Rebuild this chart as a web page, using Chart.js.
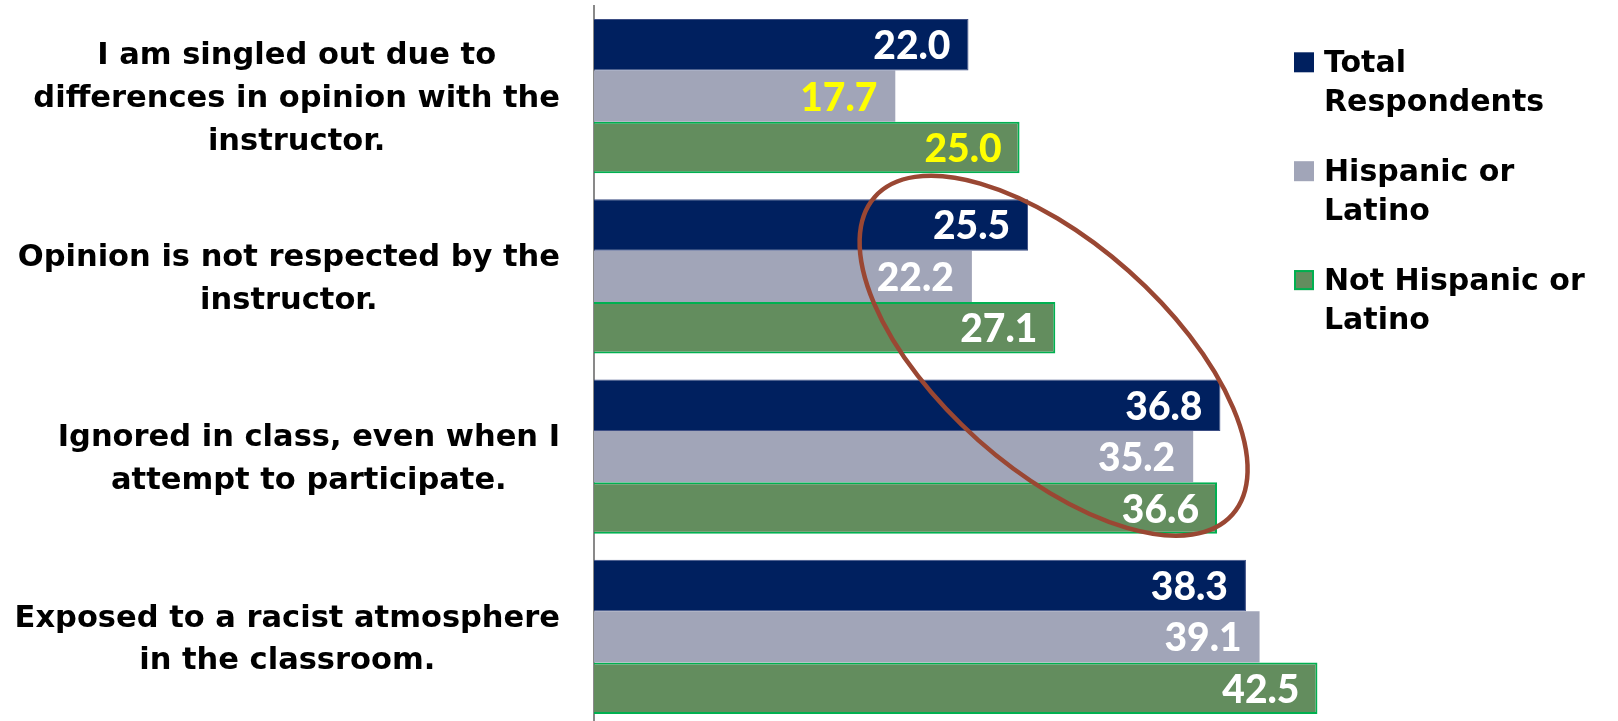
<!DOCTYPE html>
<html>
<head>
<meta charset="utf-8">
<script src="https://cdn.jsdelivr.net/npm/chart.js@4"></script>
<style>
  html, body { margin: 0; padding: 0; background: #ffffff; overflow: hidden; }
  #wrap { position: relative; width: 1618px; height: 727px; }
  canvas { display: block; }
</style>
</head>
<body>
<div id="wrap"><canvas id="chart" width="1618" height="727"></canvas></div>
<script>
// Survey items (each label wrapped onto its display lines)
const categories = [
  ['I am singled out due to', 'differences in opinion with the', 'instructor.'],
  ['Opinion is not respected by the', 'instructor.'],
  ['Ignored in class, even when I', 'attempt to participate.'],
  ['Exposed to a racist atmosphere', 'in the classroom.']
];

// Series names, split onto two legend lines
const seriesNames = [
  ['Total', 'Respondents'],
  ['Hispanic or', 'Latino'],
  ['Not Hispanic or', 'Latino']
];

// Percent of respondents
const totalRespondents    = [22.0, 25.5, 36.8, 38.3];
const hispanicOrLatino    = [17.7, 22.2, 35.2, 39.1];
const notHispanicOrLatino = [25.0, 27.1, 36.6, 42.5];

const LABEL_FONT = 'bold 30.5px "DejaVu Sans"';
const LABEL_SIZE = 30.5;
const VALUE_FONT = '900 39px Lato';
const LEGEND_FONT = 'bold 30px "DejaVu Sans"';

// Item labels: each block right-aligned next to the axis, its lines centred
const categoryLabels = {
  id: 'categoryLabels',
  afterDraw(chart) {
    const y = chart.scales.y;
    const ctx = chart.ctx;
    ctx.save();
    ctx.font = LABEL_FONT;
    ctx.fillStyle = '#000000';
    ctx.textAlign = 'center';
    ctx.textBaseline = 'alphabetic';
    const capH = 0.729 * LABEL_SIZE;
    const lineGap = 42.8;
    categories.forEach((lines, i) => {
      const widest = Math.max(...lines.map(l => ctx.measureText(l).width));
      const cx = y.right - 34 - widest / 2;
      const cy = y.getPixelForValue(i);
      const n = lines.length;
      lines.forEach((line, k) => {
        const mid = cy + (k - (n - 1) / 2) * lineGap;
        ctx.fillText(line, cx, mid + capH / 2);
      });
    });
    ctx.restore();
  }
};

// Value at the inner end of each bar
const valueLabels = {
  id: 'valueLabels',
  afterDatasetsDraw(chart) {
    const ctx = chart.ctx;
    ctx.save();
    ctx.font = VALUE_FONT;
    ctx.textAlign = 'right';
    ctx.textBaseline = 'alphabetic';
    chart.data.datasets.forEach((ds, di) => {
      const meta = chart.getDatasetMeta(di);
      meta.data.forEach((bar, i) => {
        ctx.fillStyle = ds.valueColors[i];
        ctx.fillText(ds.data[i].toFixed(1), bar.x - 18, bar.y + 14.5);
      });
    });
    ctx.restore();
  }
};

// Hand-drawn style ring around the middle two groups
const highlightRing = {
  id: 'highlightRing',
  afterDraw(chart) {
    const { x, y } = chart.scales;
    const ctx = chart.ctx;
    const unit = x.getPixelForValue(1) - x.getPixelForValue(0);
    const cx = x.getPixelForValue(27.0);
    const cy = y.getPixelForValue(1.44);
    ctx.save();
    ctx.strokeStyle = '#9A4733';
    ctx.lineWidth = 4.5;
    ctx.beginPath();
    ctx.ellipse(cx, cy, 14.05 * unit, 6.65 * unit, 41.6 * Math.PI / 180, 0, Math.PI * 2);
    ctx.stroke();
    ctx.restore();
  }
};

// Legend: square swatch beside a two-line name
const sideLegend = {
  id: 'sideLegend',
  afterDraw(chart) {
    const ctx = chart.ctx;
    ctx.save();
    ctx.font = LEGEND_FONT;
    ctx.textAlign = 'left';
    ctx.textBaseline = 'alphabetic';
    chart.data.datasets.forEach((ds, di) => {
      const base = 72.3 + di * 108.9;
      ctx.fillStyle = ds.backgroundColor;
      ctx.fillRect(1294, base - 20, 20, 20);
      if (ds.swatchBorder) {
        ctx.strokeStyle = ds.swatchBorder;
        ctx.lineWidth = 2;
        ctx.strokeRect(1295, base - 19, 18, 18);
      }
      ctx.fillStyle = '#000000';
      seriesNames[di].forEach((line, k) => {
        ctx.fillText(line, 1324, base + k * 38.4);
      });
    });
    ctx.restore();
  }
};

const WHITE = '#FFFFFF', YELLOW = '#FFFF00';

new Chart(document.getElementById('chart'), {
  type: 'bar',
  data: {
    labels: categories.map(l => l.join(' ')),
    datasets: [
      {
        label: seriesNames[0].join(' '),
        data: totalRespondents,
        backgroundColor: '#00205F',
        borderColor: '#3D4E84',
        borderWidth: 1,
        valueColors: [WHITE, WHITE, WHITE, WHITE]
      },
      {
        label: seriesNames[1].join(' '),
        data: hispanicOrLatino,
        backgroundColor: '#A1A5B8',
        borderWidth: 0,
        valueColors: [YELLOW, WHITE, WHITE, WHITE]
      },
      {
        label: seriesNames[2].join(' '),
        data: notHispanicOrLatino,
        backgroundColor: '#638D5E',
        borderColor: '#00B050',
        borderWidth: 2,
        swatchBorder: '#00B050',
        valueColors: [YELLOW, WHITE, WHITE, WHITE]
      }
    ]
  },
  options: {
    indexAxis: 'y',
    responsive: false,
    devicePixelRatio: 1,
    animation: false,
    datasets: {
      bar: { categoryPercentage: 0.857, barPercentage: 1.0, borderSkipped: 'start' }
    },
    layout: { padding: { top: 6, right: 258, bottom: 0, left: 0 } },
    scales: {
      x: { min: 0, max: 45, display: false },
      y: {
        grid: { display: false },
        border: { display: true, color: '#898989', width: 2 },
        ticks: { display: false },
        afterFit(scale) { scale.width = 594; }
      }
    },
    plugins: {
      legend: { display: false },
      tooltip: { enabled: false }
    }
  },
  plugins: [categoryLabels, valueLabels, highlightRing, sideLegend]
});
</script>
</body>
</html>
